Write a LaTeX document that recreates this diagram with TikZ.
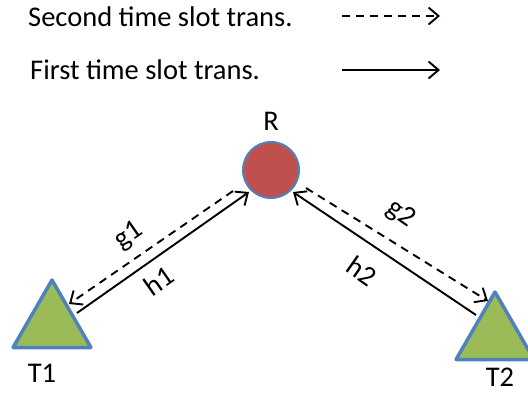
\documentclass[tikz,border=0pt]{standalone}
\usepackage{fontspec}
\setmainfont{Carlito}
\usetikzlibrary{arrows.meta,shapes.geometric}
\definecolor{nodered}{HTML}{C0504D}
\definecolor{nodegreen}{HTML}{9BBB59}
\definecolor{nodeblue}{HTML}{4F81BD}
\begin{document}
\begin{tikzpicture}[x=1pt,y=-1pt,
  lbl/.style={font=\fontsize{28.5}{33}\selectfont, inner sep=0pt},
  relay/.style={circle, fill=nodered, draw=nodeblue, line width=2pt, minimum size=56pt, inner sep=0pt},
  term/.style={regular polygon, regular polygon sides=3, fill=nodegreen, draw=nodeblue, line width=3.5pt, minimum size=90pt, inner sep=0pt, line join=round},
  firstarr/.style={line width=1.9pt, -{Straight Barb[length=10pt,width=17pt,line width=1.9pt]}},
  secondarr/.style={line width=1.9pt, dash pattern=on 8pt off 6pt, -{Straight Barb[length=10pt,width=17pt,line width=1.9pt]}}
]
\useasboundingbox (0,0) rectangle (528,392);
\begin{scope}
\clip (0,0) rectangle (528,392);
% legend
\node[lbl, anchor=west] (leg2) at (28,17) {Second time slot trans.};
\node[lbl, anchor=west] (leg1) at (30,70) {First time slot trans.};
\coordinate (l2s) at (342,16);
\coordinate (l2e) at (440,16);
\coordinate (l1s) at (342,70);
\coordinate (l1e) at (440,70);
\draw[secondarr] (l2s) -- (l2e);
\draw[firstarr] (l1s) -- (l1e);
% nodes
\node[relay] (R) at (271,170) {};
\node[lbl] (Rl) at (271,121) {R};
\node[term] (T1) at (52,325) {};
\node[lbl] (T1l) at (42,373) {T1};
\node[term] (T2) at (495,337) {};
\node[lbl] (T2l) at (500,377) {T2};
% link endpoints
\coordinate (h1s) at (77,313);
\coordinate (h1e) at (249,192);
\coordinate (g1s) at (233,191);
\coordinate (g1e) at (69,304);
\coordinate (h2s) at (476,315);
\coordinate (h2e) at (293,192);
\coordinate (g2s) at (306,188);
\coordinate (g2e) at (488,301);
\draw[firstarr] (h1s) -- (h1e);
\draw[secondarr] (g1s) -- (g1e);
\draw[firstarr] (h2s) -- (h2e);
\draw[secondarr] (g2s) -- (g2e);
% link labels
\node[lbl, rotate=35] (g1l) at (129,236) {g1};
\node[lbl, rotate=35] (h1l) at (159,281) {h1};
\node[lbl, rotate=-35] (g2l) at (401,214) {g2};
\node[lbl, rotate=-35] (h2l) at (362,271) {h2};
\end{scope}
\end{tikzpicture}
\end{document}
